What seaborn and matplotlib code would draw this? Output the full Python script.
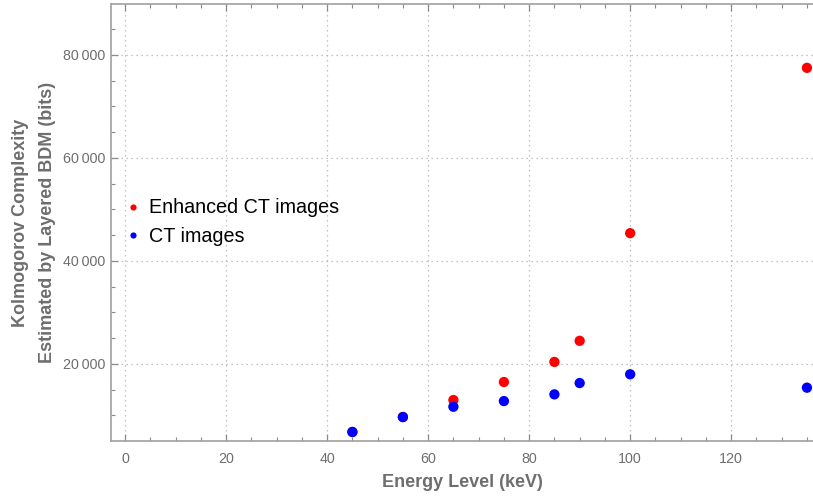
import numpy as np
import pandas as pd
import matplotlib
matplotlib.use('Agg')
import matplotlib.pyplot as plt
import matplotlib.ticker as mticker
import seaborn as sns

# data
energy = [45, 55, 65, 75, 85, 90, 100, 135]
enhanced_ct = [6800, 9700, 13000, 16500, 20400, 24500, 45400, 77500]
plain_ct = [6800, 9700, 11700, 12800, 14100, 16300, 18000, 15400]
series_names = ['Enhanced CT images', 'CT images']
series_colors = ['#ff0000', '#0000ff']

df = pd.concat([
    pd.DataFrame({'Energy': energy, 'K': enhanced_ct, 'Series': series_names[0]}),
    pd.DataFrame({'Energy': energy, 'K': plain_ct, 'Series': series_names[1]}),
])

sns.set_style('white')
plt.rcParams['font.family'] = ['Liberation Sans', 'DejaVu Sans']

GRAY = '#6e6e6e'
fig = plt.figure(figsize=(8.13, 4.97), dpi=100)
ax = fig.add_axes([0.1365, 0.1127, 0.8635, 0.8793])

sns.scatterplot(data=df, x='Energy', y='K', hue='Series', hue_order=series_names,
                palette=series_colors, s=55, edgecolor='none', linewidth=0, ax=ax)

ax.set_xlim(-2.8, 136.2)
ax.set_ylim(5050, 89900)
ax.xaxis.set_major_locator(mticker.MultipleLocator(20))
ax.xaxis.set_minor_locator(mticker.MultipleLocator(5))
ax.yaxis.set_major_locator(mticker.MultipleLocator(20000))
ax.yaxis.set_minor_locator(mticker.MultipleLocator(5000))
ax.yaxis.set_major_formatter(mticker.FuncFormatter(
    lambda v, p: f'{int(v) // 1000}\u2009{int(v) % 1000:03d}'))

ax.grid(True, which='major', linestyle=(0, (1, 3)), color='#b0b0b0', linewidth=0.9)
for side in ['left', 'bottom', 'top']:
    ax.spines[side].set_color('#a0a0a0')
    ax.spines[side].set_linewidth(1.2)
ax.spines['right'].set_visible(False)
ax.tick_params(which='both', direction='in', top=True, bottom=True, left=True,
               right=False, colors='#8a8a8a', labelcolor=GRAY, labelsize=10.3)
ax.tick_params(which='major', length=5, width=0.9)
ax.tick_params(axis='y', which='major', pad=4)
ax.tick_params(axis='x', which='major', pad=8)
ax.tick_params(which='minor', length=3, width=0.8)

ax.set_xlabel('Energy Level (keV)', fontsize=13, fontweight='bold', color=GRAY, labelpad=6)
ax.set_ylabel('Kolmogorov Complexity\nEstimated by Layered BDM (bits)', fontsize=13,
              fontweight='bold', color=GRAY, labelpad=5, linespacing=1.75)

leg = ax.legend(loc='upper left', bbox_to_anchor=(0.017, 0.555), frameon=False,
                borderpad=0, borderaxespad=0, handlelength=1.0,
                fontsize=14.2, markerscale=0.6, handletextpad=0.32, labelspacing=0.5)
for t in leg.get_texts():
    t.set_color('black')

fig.savefig('out.png', dpi=100)
